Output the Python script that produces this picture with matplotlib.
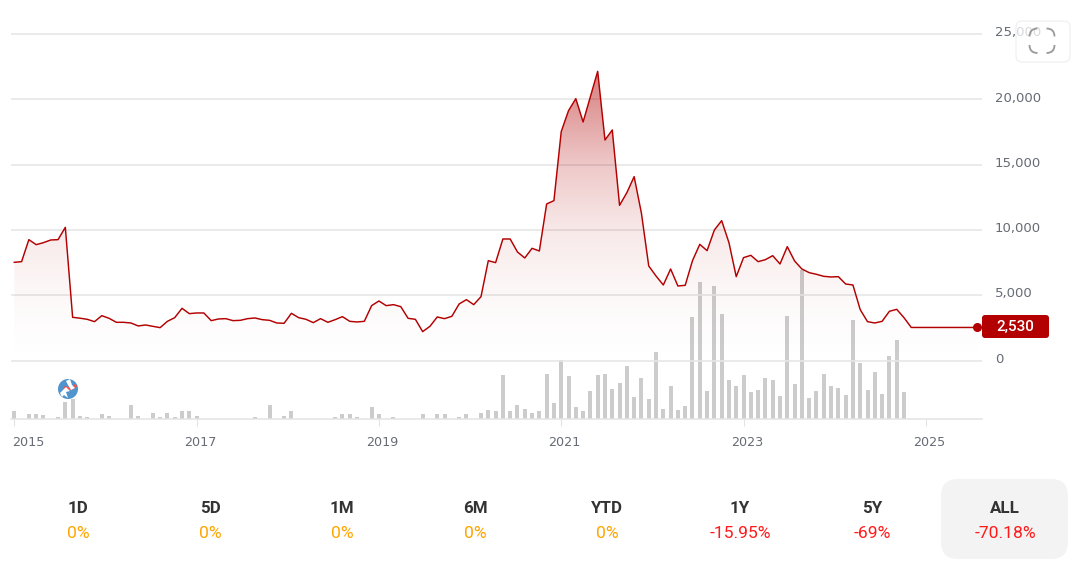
import matplotlib
matplotlib.use("Agg")
import matplotlib.pyplot as plt
import numpy as np
from matplotlib.patches import Circle, FancyBboxPatch, PathPatch, Wedge, Polygon
from matplotlib.path import Path
from matplotlib.transforms import ScaledTranslation

# price, one value per category slot
price = [7518, 7568, 9253, 8870, 9023, 9228, 9253, 10197, 3307, 3240, 3154, 2975, 3434, 3230, 2924, 2924,
         2873, 2644, 2720, 2618, 2516, 3000, 3281, 3996, 3588, 3639, 3639, 3052, 3179, 3205, 3052, 3077,
         3205, 3256, 3128, 3077, 2873, 2848, 3613, 3281, 3154, 2899, 3205, 2924, 3128, 3358, 3000, 2950,
         3000, 4200, 4557, 4200, 4277, 4123, 3230, 3154, 2210, 2618, 3333, 3205, 3384, 4328, 4660, 4277,
         4890, 7645, 7492, 9304, 9304, 8309, 7850, 8590, 8385, 11985, 12240, 17523, 19130, 20049, 18263, 20200,
         22142, 16885, 17650, 11883, 12853, 14078, 11270, 7237, 6471, 5782, 7007, 5706, 5757, 7645, 8896, 8411,
         9993, 10708, 9023, 6420, 7875, 8054, 7569, 7722, 8028, 7390, 8717, 7620, 7007, 6727, 6599, 6446,
         6395, 6420, 5859, 5782, 3894, 2975, 2873, 3000, 3766, 3919, 3281, 2530, 2530, 2530, 2530, 2530,
         2530, 2530, 2530, 2530, 2530]

# volume in arbitrary units (the chart has no volume scale)
volume = [22, 0, 13, 13, 10, 0, 5, 50, 58, 9, 5, 0, 13, 9, 0, 0,
          42, 9, 0, 17, 5, 17, 5, 22, 22, 9, 0, 0, 0, 0, 0, 0,
          0, 5, 0, 42, 0, 9, 22, 0, 0, 0, 0, 0, 5, 13, 13, 5,
          0, 34, 13, 0, 5, 0, 0, 0, 13, 0, 13, 13, 0, 5, 13, 0,
          17, 25, 22, 131, 22, 42, 30, 18, 22, 135, 46, 175, 127, 34, 22, 82,
          131, 135, 90, 106, 159, 66, 123, 58, 200, 30, 99, 25, 37, 305, 410, 82,
          398, 313, 115, 99, 131, 79, 87, 123, 115, 67, 309, 103, 447, 62, 82, 135,
          99, 91, 70, 297, 168, 87, 139, 75, 188, 237, 79]

year_labels = ["2015", "2017", "2019", "2021", "2023", "2025"]
year_pos = [0, 25, 50, 75, 100, 125]
y_ticks = [0, 5000, 10000, 15000, 20000, 25000]

periods = ["1D", "5D", "1M", "6M", "YTD", "1Y", "5Y", "ALL"]
changes = ["0%", "0%", "0%", "0%", "0%", "-15.95%", "-69%", "-70.18%"]

W, H = 1087, 571
RED = "#b30000"
TXT = "#666b75"

fig = plt.figure(figsize=(W / 100, H / 100), dpi=100)
ax = fig.add_axes([11 / W, 1 - 418.5 / H, 971 / W, 398.5 / H])
for s in ax.spines.values():
    s.set_visible(False)
ax.spines["bottom"].set_visible(True)
ax.spines["bottom"].set_color("#e3e3e3")
ax.spines["bottom"].set_linewidth(1.1)

x = np.arange(len(price))

ax.set_axisbelow(True)
ax.yaxis.grid(True, color="#e6e6e6", lw=1.2)
ax.xaxis.grid(False)

# gradient under the line, fades out fast below the peak
grad = np.zeros((256, 1, 4))
grad[..., 0] = 0.70
grad[..., 3] = np.interp(np.linspace(0, 1, 256), [0, 0.23, 0.45, 0.68, 0.9, 1], [0, 0.03, 0.09, 0.22, 0.42, 0.5])[:, None]
im = ax.imshow(grad, origin="lower", aspect="auto", extent=[0, 132, 0, 22142], zorder=1)
poly = ax.fill_between(x, price, 0, color="none", lw=0)
im.set_clip_path(poly.get_paths()[0], transform=ax.transData)
ax.set_xlim(-0.45, 132.7)
ax.set_ylim(-4441, 26072)

# volume on its own scale, sharing the baseline
vol_ax = ax.twinx()
vol_ax.set_ylim(0, 1195.5)
vol_ax.axis("off")
vol_ax.bar(np.arange(len(volume)), volume, width=0.55, color="#cccccc", zorder=2)
ax.set_zorder(vol_ax.get_zorder() + 1)
ax.patch.set_visible(False)

ax.plot(x, price, color=RED, lw=1.05, zorder=4)
ax.plot(x[-1], price[-1], "o", color=RED, ms=6.5, mew=0, zorder=5, clip_on=False)

ax.set_xticks(year_pos, year_labels)
ax.tick_params(axis="x", length=5, width=0.8, color="#e3e3e3", pad=7.5, labelcolor=TXT, labelsize=9.2)
ax.yaxis.tick_right()
ax.set_yticks(y_ticks, [f"{v:,}" for v in y_ticks])
ax.tick_params(axis="y", length=0, pad=9.3, labelcolor=TXT, labelsize=9.5)
for lab in ax.get_yticklabels():
    lab.set_transform(lab.get_transform() + ScaledTranslation(0, 2 / 72, fig.dpi_scale_trans))
labs = ax.get_xticklabels()
for lab in labs[1:]:
    lab.set_transform(lab.get_transform() + ScaledTranslation(3.5 / 100, 0, fig.dpi_scale_trans))
labs[0].set_transform(labs[0].get_transform() + ScaledTranslation(14 / 100, 0, fig.dpi_scale_trans))

# overlay in pixel coordinates for the page furniture
ui = fig.add_axes([0, 0, 1, 1], zorder=10)
ui.set_xlim(0, W)
ui.set_ylim(H, 0)
ui.axis("off")

# price badge
ui.add_patch(FancyBboxPatch((984, 317), 63, 19, boxstyle="round,pad=2,rounding_size=3", fc=RED, ec="none"))
ui.text(1015.5, 326.5, "2,530", color="white", family="Roboto", weight="medium", fontsize=11,
        ha="center", va="center")

# fullscreen button
ui.add_patch(FancyBboxPatch((1019, 24), 48, 35, boxstyle="round,pad=3,rounding_size=6",
                            fc=(1, 1, 1, 0.75), ec="#eeeeee", lw=0.8))
for cx, cy, dx, dy in [(1029.5, 28.5, 1, 1), (1054.5, 28.5, -1, 1), (1029.5, 53, 1, -1), (1054.5, 53, -1, -1)]:
    verts = [(cx, cy + 8 * dy), (cx, cy), (cx + 8 * dx, cy)]
    ui.add_patch(PathPatch(Path(verts, [Path.MOVETO, Path.CURVE3, Path.CURVE3]), fc="none", ec="#999999", lw=1.3))

# event marker
disc = Circle((68, 389), 10, fc="#4f94cd", ec="none")
ui.add_patch(disc)
swoosh = Wedge((69, 380), 10, 35, 125, width=3, fc="#ef5350", ec="none")
swoosh.set_transform(ui.transData)
ui.add_patch(swoosh)
swoosh.set_clip_path(disc)
for pts in [[(60, 393), (66, 387), (70, 391), (66, 392), (68, 398), (64, 395), (62, 397)],
            [(66, 381), (70, 379), (72, 385), (75, 388), (71, 390), (68, 385)]]:
    arrow = Polygon(pts, fc="white", ec="none")
    ui.add_patch(arrow)
    arrow.set_clip_path(disc)

# range selector
ui.add_patch(FancyBboxPatch((958, 496), 93, 46, boxstyle="round,pad=17,rounding_size=17", fc="#f3f3f3", ec="none"))
centers = [78, 210, 342, 475, 607, 740, 872, 1005]
for cx, p, c in zip(centers, periods, changes):
    ui.text(cx, 508.5, p, color="#333333", family="Roboto", weight="bold", fontsize=12.2, ha="center", va="center")
    col = "#ffa500" if c == "0%" else "#ff1a1a"
    ui.text(cx, 533, c, color=col, family="Roboto", fontsize=12.6, ha="center", va="center")

fig.savefig("out.png", dpi=100)
